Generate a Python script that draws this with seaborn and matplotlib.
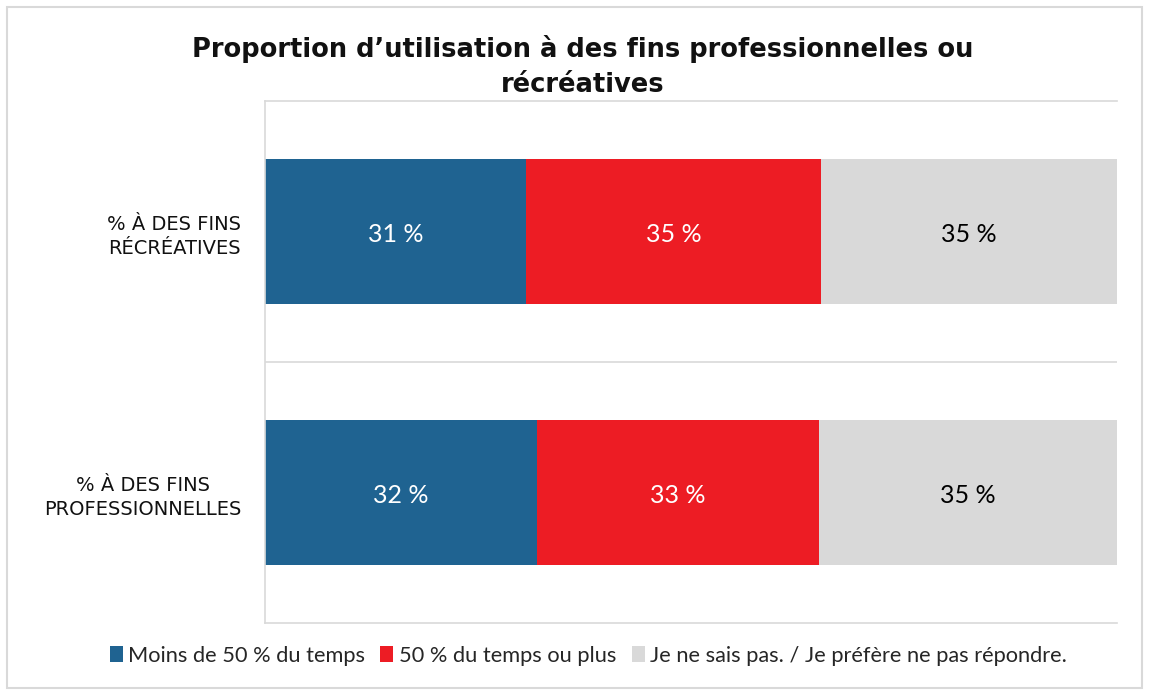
import matplotlib
matplotlib.use("Agg")
import matplotlib.pyplot as plt
from matplotlib.patches import Rectangle, Patch
import seaborn as sns
import pandas as pd

# data (shares of each bar, in %)
categories = ["% À DES FINS\nRÉCRÉATIVES", "% À DES FINS\nPROFESSIONNELLES"]
series = ["Moins de 50 % du temps", "50 % du temps ou plus",
          "Je ne sais pas. / Je préfère ne pas répondre."]
moins_50 = [30.6, 31.9]
plus_50 = [34.7, 33.1]
ne_sait_pas = [34.7, 35.0]
colors = ["#1F6391", "#ED1C24", "#D9D9D9"]
text_colors = ["white", "white", "black"]

sns.set_style("white")
plt.rcParams["font.family"] = ["Lato", "DejaVu Sans"]

df = pd.DataFrame({"cat": categories, "s1": moins_50, "s2": plus_50, "s3": ne_sait_pas})
df["c1"] = df["s1"]
df["c2"] = df["s1"] + df["s2"]
df["c3"] = df["c2"] + df["s3"]

fig = plt.figure(figsize=(11.49, 6.91), dpi=100)
ax = fig.add_axes([0.2306, 0.0984, 0.7416, 0.7554])

# stacked bars: draw cumulative totals back to front
for col, color in zip(["c3", "c2", "c1"], colors[::-1]):
    sns.barplot(data=df, x=col, y="cat", orient="h", color=color,
                width=0.556, saturation=1, ax=ax, linewidth=0)

# value labels in the middle of each segment
for i in range(len(categories)):
    left = 0
    for vals, tc in zip([moins_50, plus_50, ne_sait_pas], text_colors):
        v = vals[i]
        ax.text(left + v / 2, i + 0.012, f"{round(v)} %", ha="center", va="center",
                color=tc, fontsize=18)
        left += v

ax.set_xlim(0, 100)
ax.set_ylim(1.5, -0.5)
ax.set_xticks([])
ax.set_xlabel("")
ax.set_ylabel("")
ax.tick_params(axis="y", length=0, pad=17)
for lab in ax.get_yticklabels():
    lab.set_fontfamily(["DejaVu Sans"])
    lab.set_fontsize(14)
    lab.set_multialignment("center")
    lab.set_linespacing(1.35)
    lab.set_color("#111111")

ax.axhline(0.5, color="#D9D9D9", lw=1.2, zorder=0)
for side in ["top", "bottom", "left"]:
    ax.spines[side].set_color("#D9D9D9")
    ax.spines[side].set_linewidth(1.2)
ax.spines["right"].set_visible(False)

fig.text(0.507, 0.904, "Proportion d’utilisation à des fins professionnelles ou\nrécréatives",
         ha="center", va="center", fontsize=18.5, fontweight="bold",
         family=["DejaVu Sans"], linespacing=1.45, color="#111111")

handles = [Patch(facecolor=c, edgecolor="none") for c in colors]
fig.legend(handles, series, loc="center", bbox_to_anchor=(0.512, 0.051), ncol=3,
           frameon=False, fontsize=15.7, handlelength=0.6, handleheight=0.75,
           handletextpad=0.25, columnspacing=0.7)

fig.patches.append(Rectangle((0.006, 0.004), 0.988, 0.986, transform=fig.transFigure,
                             fill=False, edgecolor="#D9D9D9", lw=1.5))

plt.savefig("out.png", dpi=100)
